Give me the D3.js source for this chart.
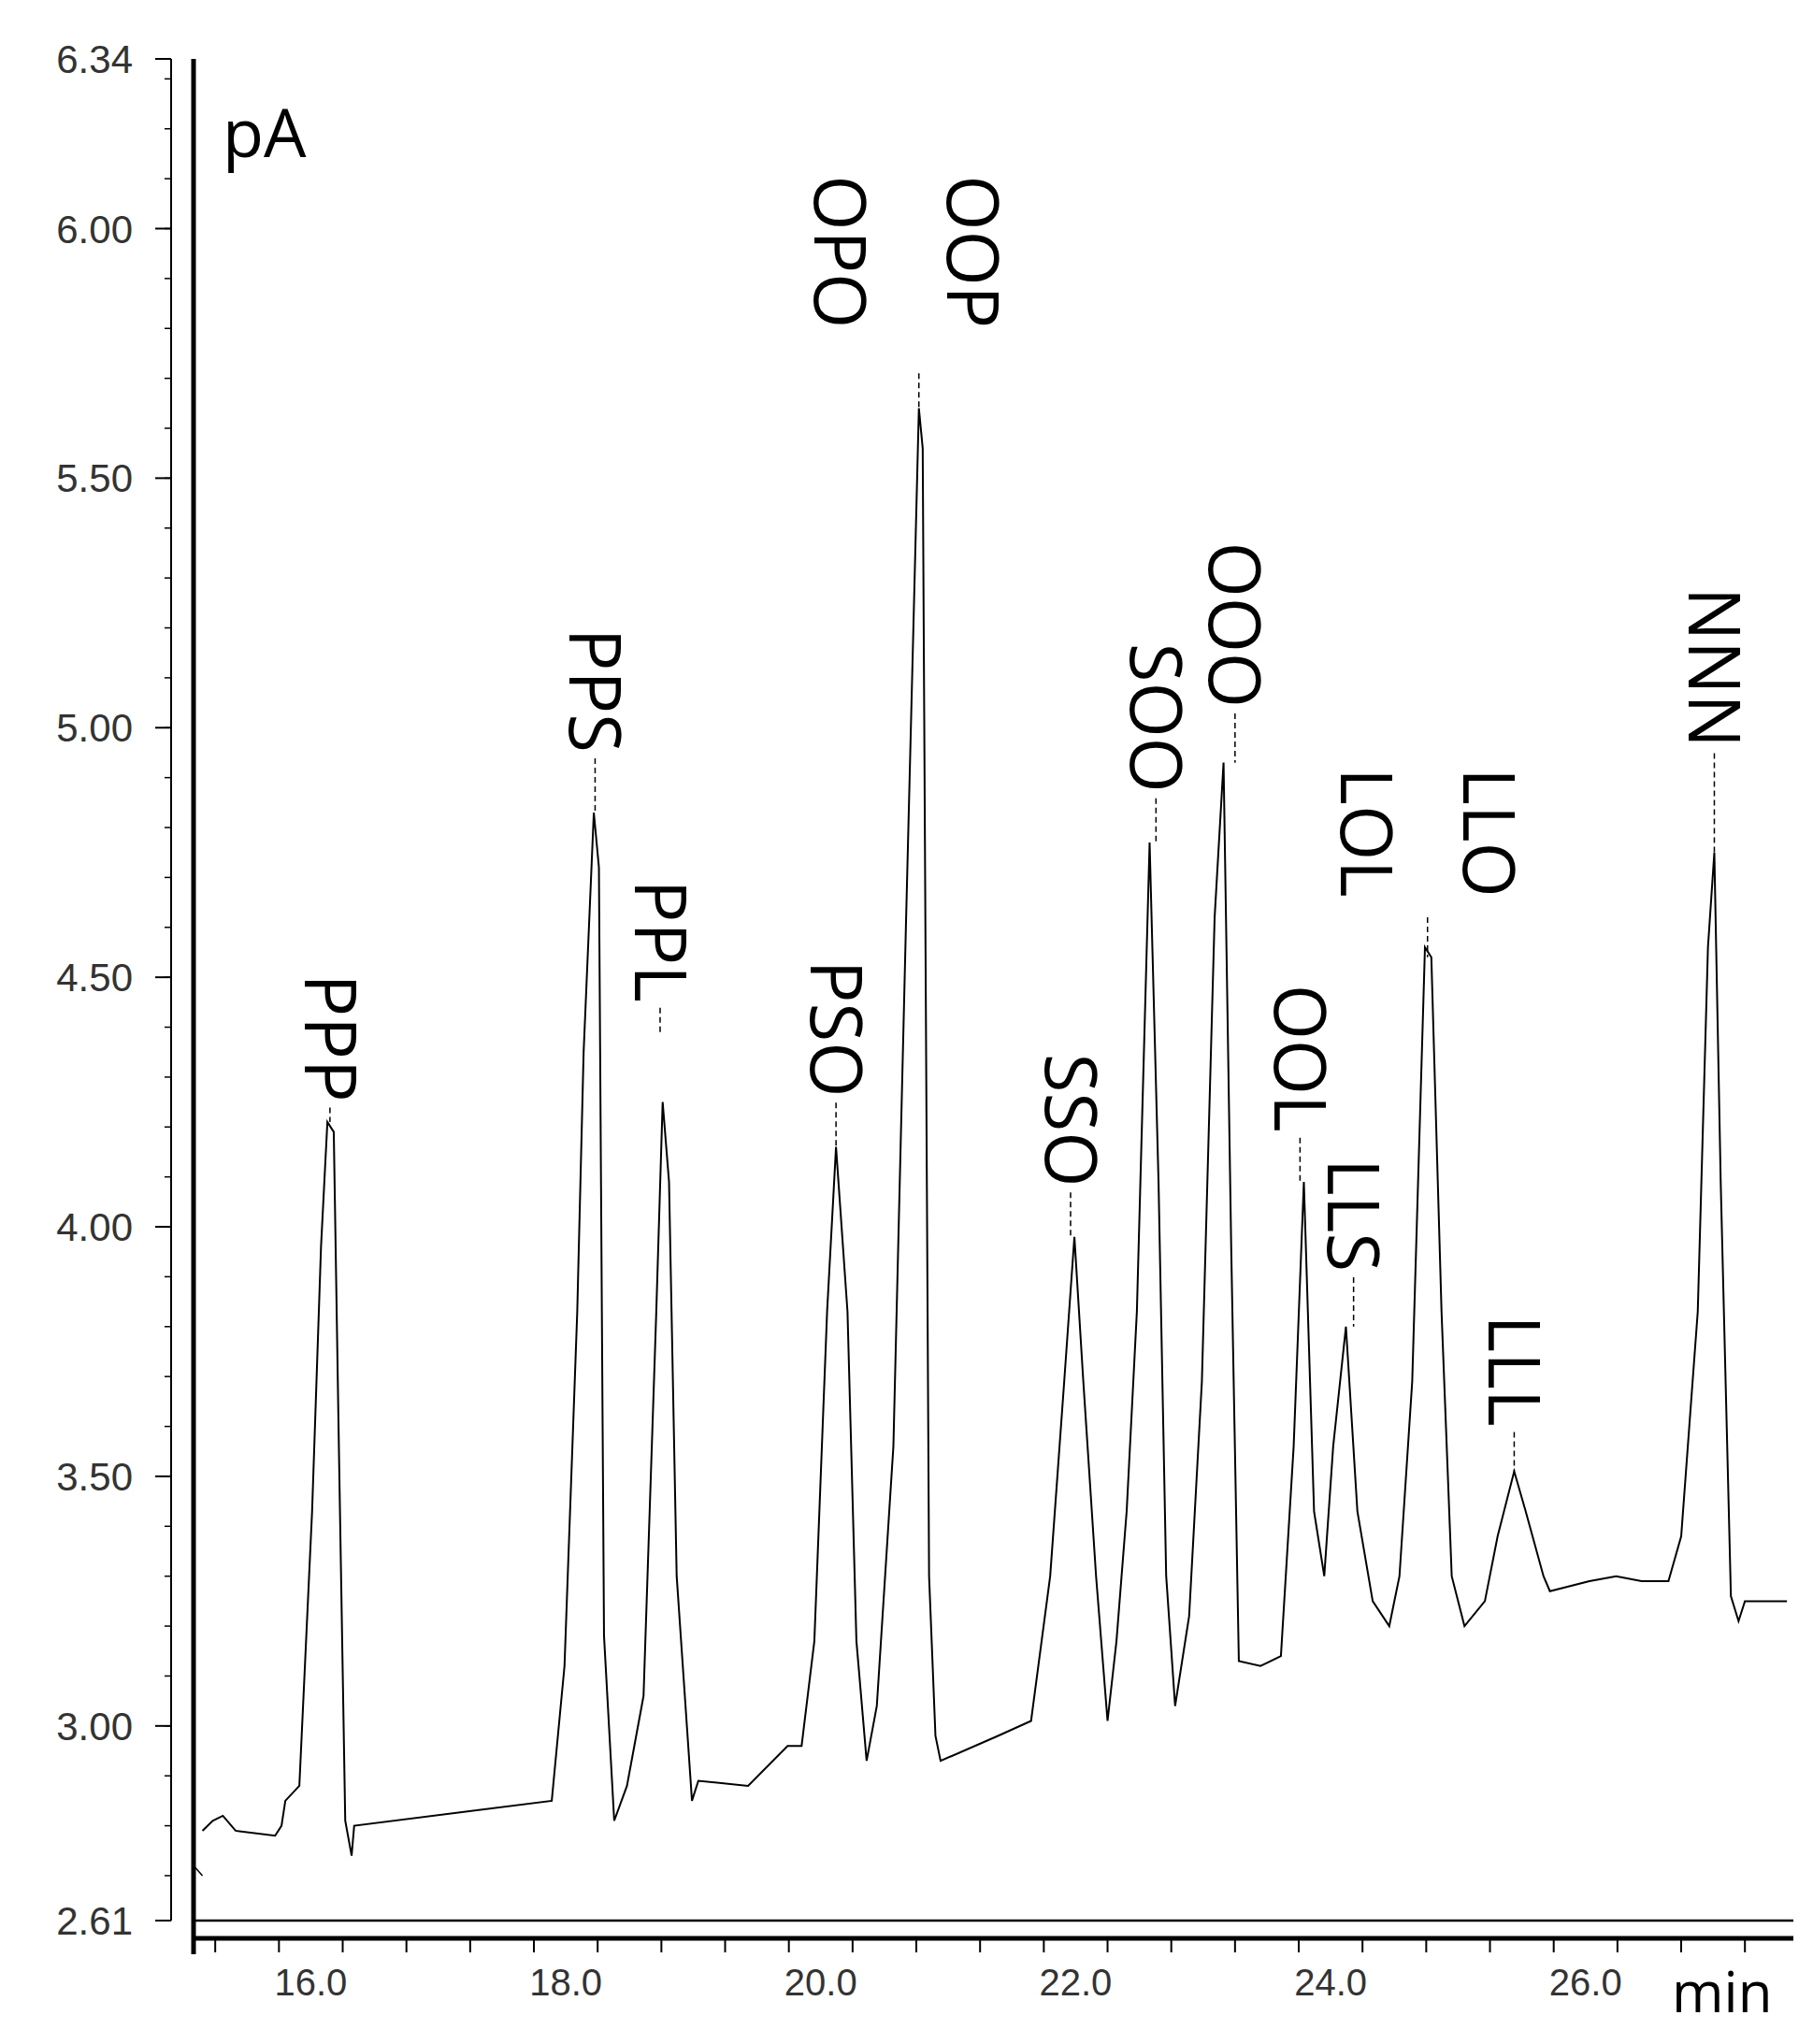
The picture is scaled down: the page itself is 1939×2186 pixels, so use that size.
<!DOCTYPE html>
<html><head><meta charset="utf-8">
<script src="https://cdn.jsdelivr.net/npm/d3@7"></script>
<style>body{margin:0;background:#fff}</style></head>
<body><svg id="c" width="1939" height="2186"></svg>
<script>
// chromatogram trace: retention time (min) and signal (pA)
const traceT = [15.15,15.23,15.31,15.41,15.72,15.77,15.80,15.91,16.01,16.08,16.13,16.18,16.22,16.27,16.32,16.34,17.89,17.99,18.09,18.14,18.22,18.26,18.30,18.38,18.48,18.61,18.71,18.76,18.81,18.87,18.99,19.04,19.43,19.74,19.85,19.95,20.05,20.12,20.21,20.28,20.36,20.44,20.57,20.67,20.77,20.80,20.85,20.90,20.94,21.39,21.65,21.80,21.91,21.99,22.06,22.16,22.25,22.32,22.40,22.48,22.58,22.65,22.71,22.78,22.89,22.99,23.09,23.16,23.22,23.28,23.45,23.61,23.71,23.79,23.87,23.95,24.02,24.12,24.21,24.33,24.46,24.54,24.64,24.74,24.79,24.87,24.95,25.05,25.21,25.31,25.44,25.53,25.67,25.72,26.03,26.24,26.44,26.65,26.75,26.88,26.96,27.01,27.06,27.14,27.20,27.25,27.58];
const traceV = [2.79,2.81,2.82,2.79,2.78,2.80,2.85,2.88,3.43,3.96,4.21,4.19,3.56,2.81,2.74,2.80,2.85,3.12,3.83,4.35,4.83,4.72,3.18,2.81,2.88,3.06,3.83,4.25,4.09,3.30,2.85,2.89,2.88,2.96,2.96,3.17,3.83,4.16,3.83,3.17,2.93,3.04,3.56,4.62,5.64,5.56,3.30,2.98,2.93,2.98,3.01,3.30,3.69,3.98,3.69,3.30,3.01,3.17,3.43,3.83,4.77,4.09,3.30,3.04,3.22,3.69,4.62,4.93,3.96,3.13,3.12,3.14,3.56,4.09,3.43,3.30,3.56,3.80,3.43,3.25,3.20,3.30,3.69,4.56,4.54,3.83,3.30,3.20,3.25,3.38,3.51,3.43,3.30,3.27,3.29,3.30,3.29,3.29,3.38,3.83,4.56,4.75,4.09,3.26,3.21,3.25,3.25];

// peak labels
const labels = ["PPP","PPS","PPL","PSO","OPO","OOP","SSO","SOO","OOO","OOL","LLS","LOL","LLO","LLL","NNN"];
const labelT = [16.15,18.23,18.74,20.12,20.15,21.19,21.96,22.63,23.25,23.76,24.18,24.28,25.24,25.44,27.01];
const labelEnd = [4.25,4.95,4.45,4.26,5.80,5.80,4.08,4.87,5.04,4.19,3.91,4.66,4.66,3.60,4.96];
const leaderTo = [4.21,4.83,4.39,4.16,null,null,3.98,4.77,4.93,4.09,3.80,null,null,3.51,4.75];
// extra leaders not under a label: [time, from, to]
const leaders = [[20.77,5.71,5.64],[24.76,4.62,4.54]];

const yTicks = [2.61,3.00,3.50,4.00,4.50,5.00,5.50,6.00,6.34];
const xTicks = [16,18,20,22,24,26];

const svg = d3.select("#c");
const x = d3.scaleLinear().domain([15.08,27.63]).range([207,1918]);
const y = d3.scaleLinear().domain([2.61,6.34]).range([2054,63]);
const tickFont = "'Liberation Sans Narrow','Liberation Sans',Arial,sans-serif";

// axes lines
svg.append("line").attr("x1",207).attr("x2",207).attr("y1",63).attr("y2",2090).attr("stroke","#000").attr("stroke-width",5);
svg.append("line").attr("x1",183).attr("x2",183).attr("y1",63).attr("y2",2054).attr("stroke","#000").attr("stroke-width",2);
svg.append("line").attr("x1",207).attr("x2",1918).attr("y1",2054).attr("y2",2054).attr("stroke","#000").attr("stroke-width",2.5);
svg.append("line").attr("x1",207).attr("x2",1918).attr("y1",2073).attr("y2",2073).attr("stroke","#000").attr("stroke-width",5);

// y ticks
const yMinor = d3.range(27,64).map(d => d/10);
svg.selectAll(".ym").data(yMinor).join("line")
  .attr("x1",176).attr("x2",183).attr("y1",d=>y(d)).attr("y2",d=>y(d)).attr("stroke","#000").attr("stroke-width",1.5);
svg.selectAll(".yM").data(yTicks).join("line")
  .attr("x1",166).attr("x2",183).attr("y1",d=>y(d)).attr("y2",d=>y(d)).attr("stroke","#000").attr("stroke-width",2);
svg.selectAll(".yl").data(yTicks).join("text")
  .attr("x",142).attr("y",d=>y(d)).attr("dy","0.36em").attr("text-anchor","end")
  .attr("font-family",tickFont).attr("font-size",42).attr("fill","#333").text(d=>d.toFixed(2));

// x ticks
const xMinor = d3.range(30.5,55.5).map(d => d/2);
svg.selectAll(".xm").data(xMinor).join("line")
  .attr("x1",d=>x(d)).attr("x2",d=>x(d)).attr("y1",2075).attr("y2",d=>Number.isInteger(d)?2095:2088)
  .attr("stroke","#000").attr("stroke-width",2);
svg.selectAll(".xl").data(xTicks).join("text")
  .attr("x",d=>x(d)).attr("y",2134).attr("text-anchor","middle")
  .attr("font-family",tickFont).attr("font-size",40).attr("fill","#333").text(d=>d.toFixed(1));

svg.append("text").attr("x",1788).attr("y",2152).attr("font-family","'Open Sans',sans-serif").attr("font-size",60).text("min");
svg.append("text").attr("x",238).attr("y",168).attr("font-family","'Open Sans',sans-serif").attr("font-size",72).text("pA");

// small start segment at left edge
svg.append("line").attr("x1",x(15.08)).attr("x2",x(15.15)).attr("y1",y(2.72)).attr("y2",y(2.70)).attr("stroke","#000").attr("stroke-width",1.5);

// trace
const pts = traceT.map((t,i)=>[t,traceV[i]]);
svg.append("path").datum(pts)
  .attr("d",d3.line().x(d=>x(d[0])).y(d=>y(d[1])))
  .attr("fill","none").attr("stroke","#000").attr("stroke-width",2);

// labels
labels.forEach((lab,i)=>{
  const px = x(labelT[i]), py = y(labelEnd[i]);
  svg.append("text").attr("transform",`translate(${px},${py}) rotate(90)`)
    .attr("text-anchor","end").attr("dy","0.36em")
    .attr("font-family","'Open Sans',sans-serif").attr("font-size",76).text(lab);
  if (leaderTo[i] !== null) {
    svg.append("line").attr("x1",px).attr("x2",px).attr("y1",py+6).attr("y2",y(leaderTo[i]))
      .attr("stroke","#000").attr("stroke-width",1.5).attr("stroke-dasharray","6,4");
  }
});
leaders.forEach(l=>{
  svg.append("line").attr("x1",x(l[0])).attr("x2",x(l[0])).attr("y1",y(l[1])).attr("y2",y(l[2]))
    .attr("stroke","#000").attr("stroke-width",1.5).attr("stroke-dasharray","6,4");
});
</script></body></html>
